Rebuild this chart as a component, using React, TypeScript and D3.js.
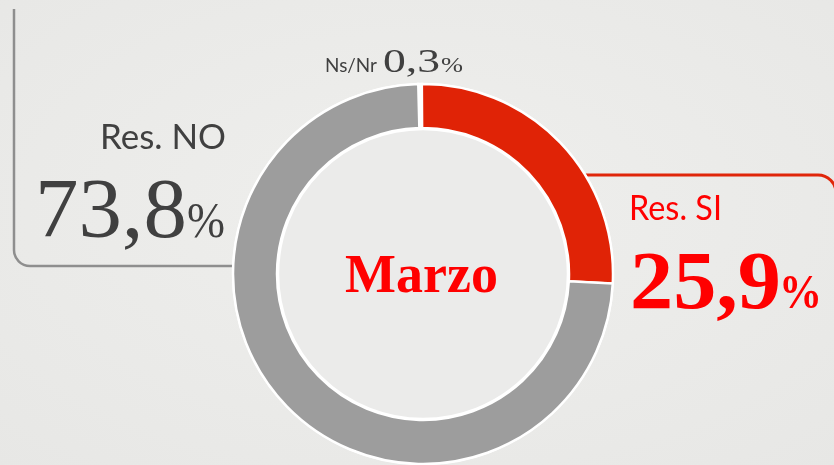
import React from "react";
import * as d3 from "d3";

const categories = ["Ns/Nr", "Res. SI", "Res. NO"];
const values = [0.3, 25.9, 73.8];
const valueLabels = ["0,3", "25,9", "73,8"];
const centerTitle = "Marzo";

const W = 834;
const H = 465;
const sliceColors = ["#ffffff", "#e02306", "#9d9d9d"];

export default function App() {
  const cx = 423;
  const cy = 274;
  const outerR = 190;
  const innerR = 146;
  const pie = d3
    .pie<number>()
    .sort(null)
    .startAngle(-0.025)
    .endAngle(Math.PI * 2 - 0.025)
    .value((d) => d);
  const arcs = pie(values);
  const arcGen = d3.arc<d3.PieArcDatum<number>>().innerRadius(innerR).outerRadius(outerR);

  const sans = "Lato, 'Open Sans', sans-serif";
  const serif = "'Liberation Serif', 'Times New Roman', serif";

  return (
    <svg
      width={W}
      height={H}
      style={{ position: "fixed", left: 0, top: 0, display: "block" }}
    >
      <defs>
        <radialGradient id="bg" cx="50%" cy="45%" r="75%">
          <stop offset="0%" stopColor="#efefed" />
          <stop offset="100%" stopColor="#e7e7e5" />
        </radialGradient>
      </defs>
      <rect x={0} y={0} width={W} height={H} fill="url(#bg)" />

      {/* left grey bracket */}
      <path
        d="M14,9 V250 A16,16 0 0 0 30,266 H236"
        fill="none"
        stroke="#8e8e8e"
        strokeWidth={2.5}
      />
      {/* right red bracket */}
      <path
        d="M585,175 H818 A18,18 0 0 1 836,193 V465"
        fill="none"
        stroke="#e0260a"
        strokeWidth={3}
      />

      {/* donut */}
      <g transform={`translate(${cx},${cy})`}>
        <circle r={outerR + 1} fill="#ffffff" />
        {arcs.map((a, i) => (
          <path
            key={categories[i]}
            d={arcGen(a) || ""}
            fill={sliceColors[i]}
            stroke="#ffffff"
            strokeWidth={2.5}
            strokeLinejoin="miter"
          />
        ))}
        <circle r={innerR - 1} fill="#ebebea" stroke="#ffffff" strokeWidth={2.5} />
      </g>

      {/* center title */}
      <text
        x={cx - 1.5}
        y={292}
        textAnchor="middle"
        fontFamily={serif}
        fontWeight="bold"
        fontSize={54}
        fill="#ff0000"
      >
        {centerTitle}
      </text>

      {/* Res. NO */}
      <text x={100} y={149} fontFamily={sans} fontSize={34} fill="#404040" textLength={126} lengthAdjust="spacingAndGlyphs">
        {categories[2]}
      </text>
      <text x={35} y={237} fontFamily={serif} fontSize={85} fill="#404040" textLength={152} lengthAdjust="spacingAndGlyphs">
        {valueLabels[2]}
      </text>
      <text x={187} y={237} fontFamily={serif} fontSize={50} fill="#404040" textLength={38} lengthAdjust="spacingAndGlyphs">
        %
      </text>

      {/* Res. SI */}
      <text x={629} y={220} fontFamily={sans} fontSize={34} fill="#ff0000" textLength={93} lengthAdjust="spacingAndGlyphs">
        {categories[1]}
      </text>
      <text x={630} y={308} fontFamily={serif} fontWeight="bold" fontSize={82} fill="#ff0000" textLength={151} lengthAdjust="spacingAndGlyphs">
        {valueLabels[1]}
      </text>
      <text x={779} y={308} fontFamily={serif} fontWeight="bold" fontSize={49} fill="#ff0000" textLength={43} lengthAdjust="spacingAndGlyphs">
        %
      </text>

      {/* Ns/Nr */}
      <text x={325} y={72} fontFamily={sans} fontSize={19} fill="#404040" textLength={52} lengthAdjust="spacingAndGlyphs">
        {categories[0]}
      </text>
      <text x={383} y={72} fontFamily={serif} fontSize={33} fill="#404040" textLength={57} lengthAdjust="spacingAndGlyphs">
        {valueLabels[0]}
      </text>
      <text x={441} y={72} fontFamily={serif} fontSize={22} fill="#404040" textLength={22} lengthAdjust="spacingAndGlyphs">
        %
      </text>
    </svg>
  );
}
